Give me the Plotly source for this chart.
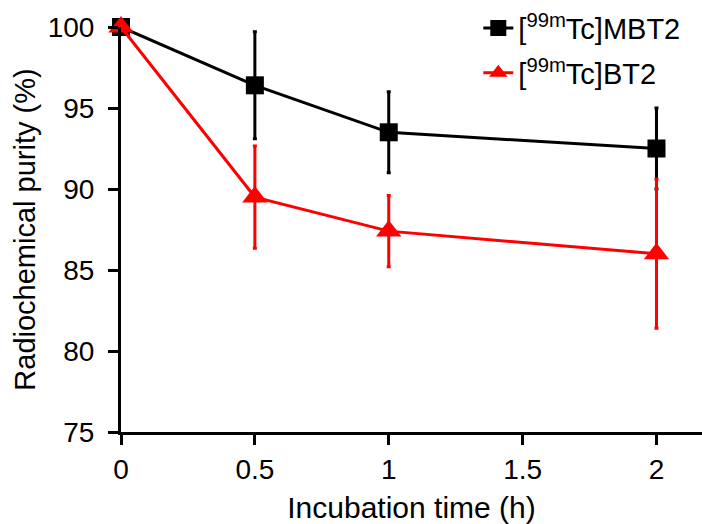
import plotly.graph_objects as go

# incubation time (h)
time_h = [0, 0.5, 1, 2]

# radiochemical purity (%), mean and error
mbt2_mean = [100.0, 96.4, 93.5, 92.5]
mbt2_err = [0.0, 3.3, 2.5, 2.5]
bt2_mean = [100.0, 89.5, 87.4, 86.0]
bt2_err = [0.0, 3.15, 2.2, 4.6]

x_ticks = [0, 0.5, 1, 1.5, 2]
x_tick_labels = ["0", "0.5", "1", "1.5", "2"]
y_ticks = [75, 80, 85, 90, 95, 100]

FONT = "Liberation Sans, Arial, sans-serif"

fig = go.Figure()

fig.add_trace(go.Scatter(
    x=time_h, y=mbt2_mean,
    mode="lines+markers",
    name="[<sup>99m</sup>Tc]MBT2",
    legendgroup="mbt2",
    line=dict(color="#000000", width=3),
    marker=dict(symbol="square", size=18, color="#000000"),
    error_y=dict(type="data", array=mbt2_err, visible=True,
                 color="#000000", thickness=3, width=2),
    cliponaxis=False,
))

fig.add_trace(go.Scatter(
    x=time_h, y=bt2_mean,
    mode="lines+markers",
    name="[<sup>99m</sup>Tc]BT2",
    legendgroup="bt2",
    line=dict(color="#FF0000", width=3),
    marker=dict(symbol="triangle-up", size=22, color="#FF0000"),
    error_y=dict(type="data", array=bt2_err, visible=True,
                 color="#FF0000", thickness=3, width=2),
    cliponaxis=False,
))

fig.update_layout(
    width=702, height=524,
    paper_bgcolor="white",
    plot_bgcolor="white",
    font=dict(family=FONT, color="#000000", size=28),
    margin=dict(l=121, r=0, t=27, b=92),
    showlegend=True,
    legend=dict(
        x=0.615, y=1.06, xanchor="left", yanchor="top",
        font=dict(size=29, family=FONT),
        bgcolor="rgba(0,0,0,0)",
        itemwidth=30,
        tracegroupgap=4,
    ),
    xaxis=dict(
        range=[0, 2.17],
        tickvals=x_ticks, ticktext=x_tick_labels,
        showgrid=False, zeroline=False,
        showline=True, linecolor="#000000", linewidth=3,
        ticks="outside", ticklen=10, tickwidth=3, tickcolor="#000000",
        tickfont=dict(size=28),
        title=dict(text="Incubation time (h)", font=dict(size=30), standoff=14),
    ),
    yaxis=dict(
        range=[75, 100],
        tickvals=y_ticks,
        showgrid=False, zeroline=False,
        showline=True, linecolor="#000000", linewidth=3,
        ticks="outside", ticklen=10, tickwidth=3, tickcolor="#000000",
        tickfont=dict(size=28),
        ticklabelstandoff=8,
        title=dict(text="Radiochemical purity (%)", font=dict(size=29), standoff=4),
    ),
)

fig.write_html("out.html", config={"displayModeBar": False},
               post_script="document.body.style.margin='0px';")
